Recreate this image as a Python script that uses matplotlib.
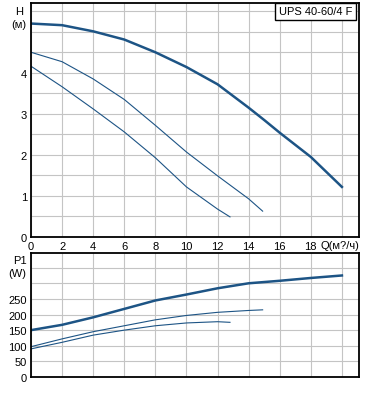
import numpy as np
import matplotlib.pyplot as plt

plt.rcParams['font.family'] = ['Liberation Sans', 'DejaVu Sans']

# H(Q) curves, three speeds
q_max = [0, 2, 4, 6, 8, 10, 12, 14, 15, 16, 18, 20]
h_max = [5.2, 5.16, 5.01, 4.81, 4.5, 4.14, 3.72, 3.15, 2.85, 2.54, 1.95, 1.22]
q_mid = [0, 2, 4, 6, 8, 10, 12, 14, 14.9]
h_mid = [4.5, 4.27, 3.85, 3.35, 2.72, 2.07, 1.49, 0.93, 0.63]
q_min = [0, 2, 4, 6, 8, 10, 12, 12.8]
h_min = [4.16, 3.66, 3.12, 2.56, 1.93, 1.22, 0.68, 0.49]

# P1(Q) curves
p_max = [150, 167, 191, 218, 245, 264, 284, 300, 304, 308, 317, 325]
p_mid = [97, 122, 145, 164, 183, 197, 207, 213, 215]
p_min = [90, 111, 134, 150, 164, 173, 177, 175]

x_ticks = [0, 2, 4, 6, 8, 10, 12, 14, 16, 18]
h_ticks = [0, 1, 2, 3, 4]
p_ticks = [0, 50, 100, 150, 200, 250]

col = '#1d5485'
grid_col = '#c4c4c4'

fig = plt.figure(figsize=(3.71, 4.14), dpi=100, facecolor='w')
ax1 = fig.add_axes([0.0836, 0.4251, 0.8841, 0.5652])
ax2 = fig.add_axes([0.0836, 0.0870, 0.8841, 0.2995])

for ax in (ax1, ax2):
    ax.set_xlim(0, 21.1)
    ax.set_xticks(np.arange(0, 21, 2))
    ax.grid(True, color=grid_col, lw=0.8)
    ax.set_axisbelow(True)
    ax.tick_params(length=0, labelsize=8, pad=3)
    for s in ax.spines.values():
        s.set_linewidth(1.3)

ax1.plot(q_max, h_max, color=col, lw=1.8)
ax1.plot(q_mid, h_mid, color=col, lw=0.8)
ax1.plot(q_min, h_min, color=col, lw=0.8)
ax1.set_ylim(0, 5.7)
ax1.set_yticks(np.arange(0, 5.6, 0.5))
ax1.set_yticklabels([str(int(v)) if v in h_ticks else '' for v in np.arange(0, 5.6, 0.5)])
ax1.set_xticklabels([str(v) for v in x_ticks] + [''])
ax1.text(18.6, -0.07, 'Q(м?/ч)', ha='left', va='top', fontsize=8)
ax1.text(-0.5, 5.5, 'H', ha='right', va='center', fontsize=8)
ax1.text(-0.3, 5.2, '(м)', ha='right', va='center', fontsize=8)
ax1.text(18.3, 5.5, 'UPS 40-60/4 F', ha='center', va='center', fontsize=8,
         bbox=dict(boxstyle='square,pad=0.3', fc='w', ec='k', lw=1.0))

ax2.plot(q_max, p_max, color=col, lw=1.8)
ax2.plot(q_mid, p_mid, color=col, lw=0.8)
ax2.plot(q_min, p_min, color=col, lw=0.8)
ax2.set_ylim(0, 397)
ax2.set_yticks(np.arange(0, 400, 50))
ax2.set_yticklabels([str(v) if v in p_ticks else '' for v in range(0, 400, 50)])
ax2.set_xticklabels([])
ax2.text(-0.3, 375, 'P1', ha='right', va='center', fontsize=8)
ax2.text(-0.3, 333, '(W)', ha='right', va='center', fontsize=8)

fig.savefig('out.png', dpi=100)
